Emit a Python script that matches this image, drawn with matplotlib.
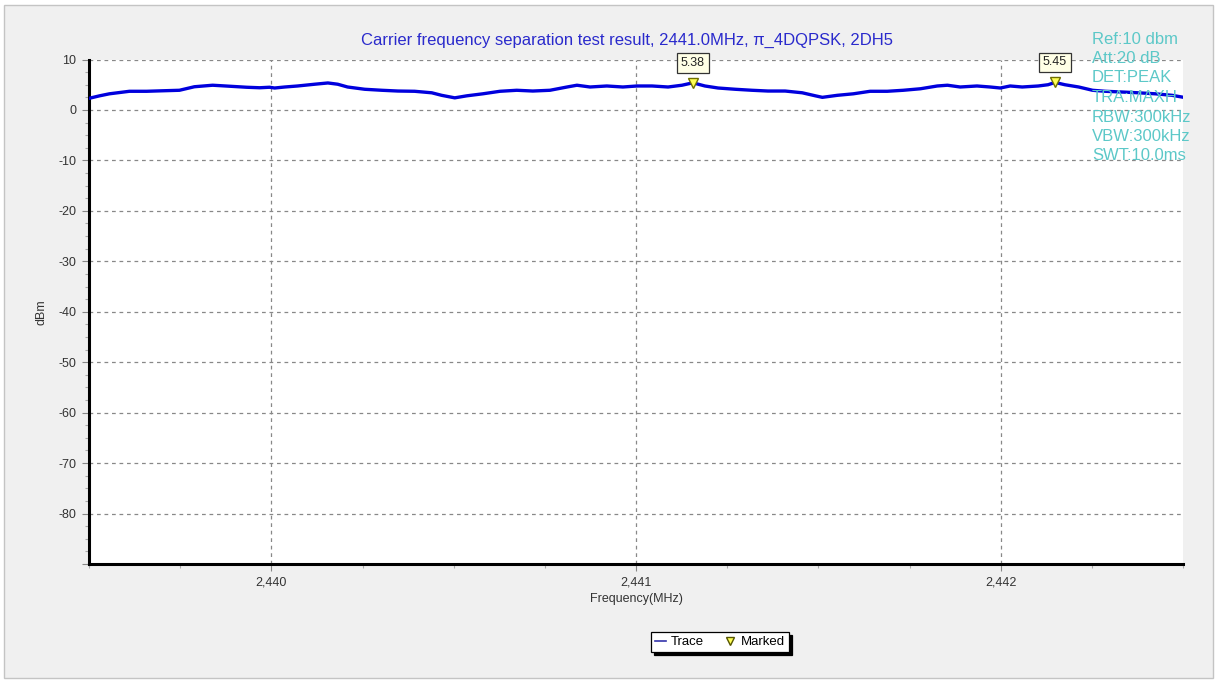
import matplotlib.pyplot as plt
from matplotlib.patches import Rectangle
from matplotlib.lines import Line2D
from matplotlib.ticker import MultipleLocator, FuncFormatter

# trace (MHz, dBm)
freq = [2439.500, 2439.529, 2439.556, 2439.611, 2439.658, 2439.702, 2439.748, 2439.789,
        2439.839, 2439.886, 2439.932, 2439.968, 2439.995, 2440.009, 2440.037, 2440.072,
        2440.119, 2440.155, 2440.182, 2440.209, 2440.256, 2440.303, 2440.347, 2440.393,
        2440.440, 2440.467, 2440.503, 2440.536, 2440.580, 2440.627, 2440.673, 2440.717,
        2440.764, 2440.811, 2440.838, 2440.874, 2440.920, 2440.964, 2441.003, 2441.044,
        2441.088, 2441.126, 2441.156, 2441.189, 2441.225, 2441.272, 2441.318, 2441.362,
        2441.409, 2441.456, 2441.492, 2441.511, 2441.552, 2441.596, 2441.642, 2441.689,
        2441.733, 2441.780, 2441.826, 2441.854, 2441.889, 2441.935, 2441.971, 2441.999,
        2442.026, 2442.059, 2442.103, 2442.130, 2442.149, 2442.176, 2442.214, 2442.252,
        2442.287, 2442.334, 2442.378, 2442.424, 2442.470, 2442.498]
level = [2.3, 2.8, 3.2, 3.7, 3.7, 3.8, 3.9, 4.6,
         4.9, 4.7, 4.5, 4.4, 4.5, 4.35, 4.55, 4.75,
         5.1, 5.35, 5.1, 4.55, 4.1, 3.9, 3.75, 3.7,
         3.4, 2.9, 2.4, 2.8, 3.2, 3.7, 3.9, 3.75,
         3.9, 4.55, 4.9, 4.55, 4.75, 4.55, 4.75, 4.75,
         4.55, 4.9, 5.38, 4.75, 4.35, 4.1, 3.9, 3.75,
         3.75, 3.4, 2.8, 2.5, 2.9, 3.2, 3.7, 3.7,
         3.9, 4.2, 4.75, 4.9, 4.55, 4.75, 4.55, 4.35,
         4.75, 4.55, 4.75, 5.0, 5.45, 5.0, 4.55, 3.9,
         3.7, 3.55, 3.4, 3.2, 2.9, 2.55]

marker_freq = [2441.156, 2442.149]
marker_level = [5.38, 5.45]

settings = ['Ref:10 dbm', 'Att:20 dB', 'DET:PEAK', 'TRA:MAXH',
            'RBW:300kHz', 'VBW:300kHz', 'SWT:10.0ms']

title = 'Carrier frequency separation test result, 2441.0MHz, \u03c0_4DQPSK, 2DH5'

plt.rcParams['font.family'] = ['Liberation Sans', 'DejaVu Sans']

W, H = 1219, 682
fig = plt.figure(figsize=(W / 100, H / 100), dpi=100, facecolor='white')
# grey panel with thin border like the test software window
fig.patches.append(Rectangle((4 / W, 4 / H), (W - 10) / W, (H - 9) / H,
                             transform=fig.transFigure, facecolor='#f0f0f0',
                             edgecolor='#c4c4c4', lw=1, zorder=-10))

ax = fig.add_axes([89 / W, 1 - 564 / H, (1183 - 89) / W, (564 - 59.5) / H])
ax.set_facecolor('white')

ax.plot(freq, level, color='#0000dd', lw=2.4, zorder=3)
ax.plot(marker_freq, marker_level, linestyle='none', marker='v', ms=7.5,
        markerfacecolor='#ffff55', markeredgecolor='#707000', mew=1, zorder=4)
for f, v in zip(marker_freq, marker_level):
    ax.annotate(f'{v:.2f}', (f, v), xytext=(0, 20), textcoords='offset pixels',
                ha='center', va='center', fontsize=9, color='#222222', zorder=5,
                bbox=dict(boxstyle='square,pad=0.3', fc='#ffffe6', ec='#333333', lw=0.9))

ax.set_xlim(2439.5, 2442.5)
ax.set_ylim(-90, 10)
ax.xaxis.set_major_locator(MultipleLocator(1))
ax.xaxis.set_minor_locator(MultipleLocator(0.25))
ax.yaxis.set_major_locator(MultipleLocator(10))
ax.yaxis.set_minor_locator(MultipleLocator(2.5))
ax.xaxis.set_major_formatter(FuncFormatter(lambda v, p: f'{v:,.0f}'))
ax.yaxis.set_major_formatter(FuncFormatter(lambda v, p: '' if v < -85 else f'{v:.0f}'))

ax.grid(True, which='major', color='#888888', linestyle=(0, (3, 3)), lw=0.9)
for s in ['top', 'right']:
    ax.spines[s].set_visible(False)
for s in ['left', 'bottom']:
    ax.spines[s].set_linewidth(2.2)
    ax.spines[s].set_color('black')

ax.tick_params(which='major', length=5, width=0.8, color='#888888',
               labelsize=9, labelcolor='#333333', pad=4)
ax.tick_params(which='minor', length=3, width=0.8, color='#aaaaaa')

ax.set_xlabel('Frequency(MHz)', fontsize=9, color='#333333', labelpad=3)
ax.set_ylabel('dBm', fontsize=9, color='#333333', labelpad=8)

fig.text(627 / W, 1 - 40 / H, title, ha='center', va='center',
         fontsize=12, color='#2a2acc')

for i, s in enumerate(settings):
    fig.text(1092 / W, 1 - (39 + 19.5 * i) / H, s, ha='left', va='center',
             fontsize=12, color='#5cc8c8', zorder=10)

handles = [Line2D([], [], color='#3333aa', lw=1.2),
           Line2D([], [], linestyle='none', marker='v', ms=6,
                  markerfacecolor='#ffff55', markeredgecolor='#555500')]
leg = fig.legend(handles, ['Trace', 'Marked'], loc='center', ncol=2,
                 bbox_to_anchor=(720 / W, 1 - 642 / H), fontsize=9.5,
                 fancybox=False, shadow={'color': 'black', 'alpha': 1},
                 frameon=True, edgecolor='black', handlelength=0.8,
                 handletextpad=0.4, columnspacing=1.6, borderpad=0.3)
leg.get_frame().set_linewidth(0.9)

fig.savefig('out.png', dpi=100, facecolor=fig.get_facecolor())
